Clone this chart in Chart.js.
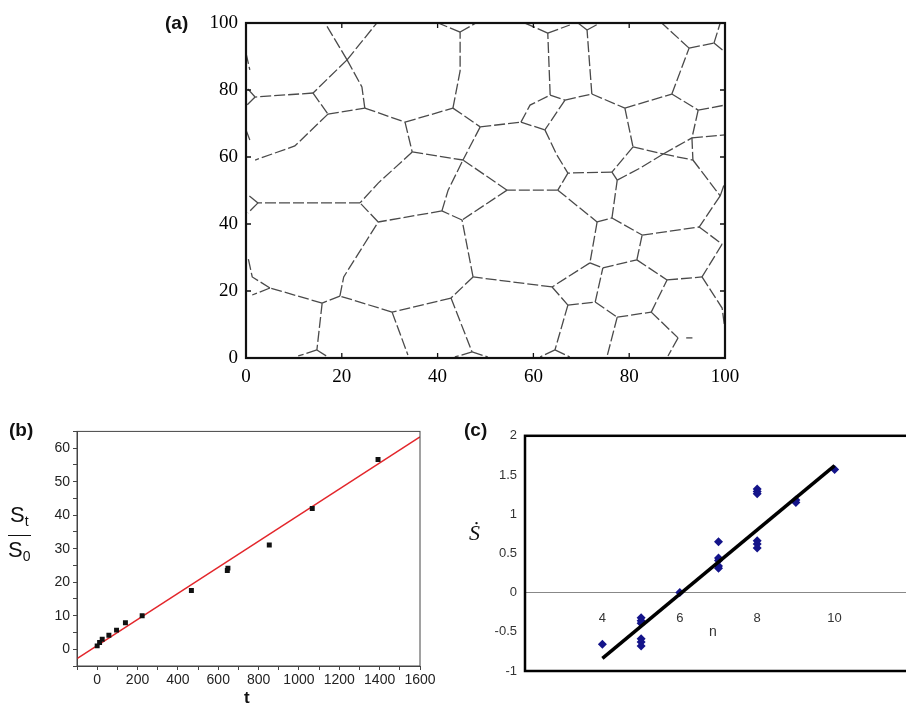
<!DOCTYPE html>
<html>
<head>
<meta charset="utf-8">
<script src="https://cdn.jsdelivr.net/npm/chart.js@4.4.1/dist/chart.umd.min.js"></script>
<style>
  html, body { margin: 0; padding: 0; background: #fff; width: 906px; height: 705px; overflow: hidden; position: relative; }
  canvas { position: absolute; }
  .tag { position: absolute; font: bold 19px "Liberation Sans", Arial, sans-serif; color: #111; line-height: 19px; }
  .frac { position: absolute; left: 8px; top: 503px; font: 22px "Liberation Sans", Arial, sans-serif; color: #111; text-align: center; line-height: 24px; }
  .frac sub { font-size: 14px; vertical-align: -4px; }
  .frac .num { border-bottom: 1.5px solid #111; padding: 0 2px 2px 2px; }
  .frac .den { padding-top: 2px; }
  .ttl { position: absolute; line-height: 1; }
</style>
</head>
<body>
<canvas id="grainChart" width="590" height="395" style="left:160px;top:0px"></canvas>
<canvas id="growthChart" width="450" height="285" style="left:0px;top:420px"></canvas>
<canvas id="rateChart" width="480" height="285" style="left:450px;top:420px"></canvas>

<div class="tag" style="left:165px;top:13px">(a)</div>
<div class="tag" style="left:9px;top:420px">(b)</div>
<div class="tag" style="left:464px;top:420px">(c)</div>
<div class="frac"><div class="num">S<sub>t</sub></div><div class="den">S<sub>0</sub></div></div>
<div class="ttl" style="left:244px;top:688px;font:bold 17px 'Liberation Sans',Arial,sans-serif;color:#111">t</div>
<div class="ttl" style="left:709px;top:623px;font:14px 'Liberation Sans',Arial,sans-serif;color:#333">n</div>
<div class="ttl" style="left:469px;top:520px;font:italic 22px 'Liberation Serif','Times New Roman',serif;color:#111">Ṡ</div>

<script>
// (a) grain boundary network: junction points (x, y in plot units)
const junctions = {
  v1: [21.1, 89.0], v2: [14.0, 79.1], v3: [24.8, 74.6], v4: [1.9, 77.9], v5: [17.1, 72.8],
  v6: [33.2, 70.4], v7: [34.7, 61.5], v8: [45.3, 59.1], v9: [43.2, 74.6], v10: [63.5, 78.5],
  v11: [48.9, 69.0], v12: [57.4, 70.4], v13: [62.4, 68.1], j: [66.6, 77.0], v14: [72.2, 78.8],
  v15: [54.5, 50.1], v16: [65.1, 50.1], v17: [67.2, 55.2], v18: [76.4, 55.5], v19: [79.1, 74.6],
  v20: [88.9, 78.8], v21: [92.5, 92.5], v22: [97.7, 94.0], v23: [94.4, 74.0], v24: [80.8, 63.0],
  v25: [93.1, 65.7], v26: [87.1, 60.9], v27: [93.3, 59.1], v28: [77.5, 53.1], v29: [73.3, 40.6],
  v30: [76.4, 41.8], v31: [82.7, 36.7], v32: [94.6, 39.1], v33: [71.8, 28.4], v34: [81.6, 29.3],
  v35: [74.5, 26.9], v36: [87.9, 23.3], v37: [95.2, 24.2], v38: [72.9, 16.7], v39: [77.5, 12.2],
  v40: [84.6, 13.7], v41: [90.2, 6.0], v42: [40.9, 43.9], v43: [45.1, 41.2], v44: [47.4, 24.2],
  v45: [63.9, 21.2], v46: [42.8, 17.9], v47: [67.2, 15.8], v48: [23.8, 46.3], v49: [27.6, 40.6],
  v50: [19.6, 18.5], v51: [15.9, 16.4], v52: [5.0, 20.9], v53: [30.5, 13.7], v54: [99.0, 48.4],
  ya: [44.7, 97.3], yb: [63.0, 97.0], yc: [71.2, 97.9], lm: [2.5, 46.3], r5: [99.4, 34.0],
  b1: [14.8, 2.4], b2: [47.2, 1.8], b3: [64.5, 2.4], r6: [99.4, 14.9]
};

// boundaries as paths through junctions (or loose points)
const boundaries = [
  ['v1', [16.5, 100]], ['v1', [27.3, 100]], ['v1', 'v2'], ['v1', [24.2, 80.9], 'v3'],
  ['v2', 'v4'], ['v4', [0, 80.9]], ['v4', [0.2, 75.5]], ['v2', 'v5'], ['v5', 'v3'], ['v3', 'v6'],
  ['v5', [10.2, 63.3], [1.9, 59.1]],
  ['v6', 'v7'], ['v6', 'v9'], ['v7', 'v8'], ['v7', [27.6, 52.2], 'v48'],
  ['v9', [44.7, 85.7], 'ya'], ['ya', [40.1, 100]], ['ya', [48.0, 100]],
  ['v9', 'v11'], ['v11', 'v12'], ['v11', 'v8'],
  ['v12', [59.3, 75.5], 'v10'], ['v12', 'v13'],
  ['v10', 'yb'], ['yb', [58.2, 100]], ['yb', [67.6, 99.4]],
  ['v10', 'j'], ['j', 'v14'], ['j', 'v13'],
  ['v14', 'yc'], ['yc', [69.3, 100]], ['yc', [73.5, 99.7]],
  ['v14', 'v19'], ['v19', 'v20'], ['v20', 'v21'], ['v21', [86.8, 100]], ['v21', 'v22'],
  ['v22', [99.0, 100]], ['v22', [100, 91.3]],
  ['v20', 'v23'], ['v23', [100, 75.5]], ['v19', 'v24'], ['v23', 'v25'], ['v25', [100, 66.6]],
  ['v24', 'v26'], ['v26', 'v25'], ['v26', 'v27'], ['v25', 'v27'],
  ['v24', 'v18'], ['v18', 'v17'], ['v13', [64.9, 60.6], 'v17'],
  ['v17', 'v16'], ['v16', 'v15'], ['v15', 'v8'], ['v15', 'v43'], ['v43', 'v42'], ['v42', [42.2, 50.1], 'v8'],
  ['v42', 'v49'], ['v49', 'v48'], ['v48', 'lm'], ['lm', [0.4, 48.7]], ['lm', [0.4, 43.3]],
  ['v16', 'v29'], ['v29', 'v30'], ['v30', 'v28'], ['v28', 'v18'], ['v26', [82.3, 56.7], 'v28'],
  ['v27', 'v54'], ['v54', 'v32'], ['v54', [100, 52.5]],
  ['v30', 'v31'], ['v31', 'v32'], ['v32', 'r5'], ['r5', 'v37'],
  ['v29', 'v33'], ['v33', 'v35'], ['v35', 'v34'], ['v34', 'v31'], ['v34', 'v36'], ['v36', 'v37'],
  ['v37', 'r6', [100, 8.4]],
  ['v33', 'v45'], ['v45', 'v44'], ['v44', 'v43'], ['v44', 'v46'], ['v46', 'v53'], ['v53', 'v50'],
  ['v50', [20.4, 24.2], 'v49'], ['v50', 'v51'], ['v51', 'v52'],
  ['v52', [1.3, 24.2], [0.4, 30.1]], ['v52', [1.3, 18.8]],
  ['v45', 'v47'], ['v47', 'v38'], ['v38', 'v35'], ['v38', 'v39'], ['v39', 'v40'], ['v40', 'v36'], ['v40', 'v41'],
  ['v51', 'b1'], ['b1', [10.9, 0.6]], ['b1', [17.1, 0.3]],
  ['v53', [33.8, 0.9]],
  ['v46', 'b2'], ['b2', [43.6, 0.3]], ['b2', [50.5, 0.3]],
  ['v47', 'b3'], ['b3', [61.4, 0.3]], ['b3', [67.6, 0.3]],
  ['v39', [75.4, 0.6]], ['v41', [88.1, 0.6]],
  [[91.9, 6.0], [93.2, 6.0]],
  [[0, 91.0], [0.8, 86.0]], [[0, 68.1], [0.8, 65.1]]
];

// (b) normalised size vs time
const timeT = [0, 12, 25, 58, 96, 140, 223, 467, 645, 648, 853, 1066, 1392];
const sizeRatio = [1.0, 2.0, 3.0, 4.2, 5.7, 7.9, 10.0, 17.5, 23.5, 24.2, 31.1, 42.0, 56.6];
const fitT = [-100, 1600];
const fitRatio = [-2.8, 63.4];

// (c) growth rate vs number of sides
const sidesN = [4, 5, 5, 5, 5, 5, 5, 6, 7, 7, 7, 7, 7, 8, 8, 8, 8, 8, 8, 9, 9, 10];
const rateS = [-0.66, -0.32, -0.36, -0.39, -0.59, -0.63, -0.68, 0.0, 0.65, 0.44, 0.41, 0.34, 0.31,
               1.32, 1.29, 1.26, 0.66, 0.62, 0.57, 1.18, 1.15, 1.57];
const fitN = [4, 10];
const fitRate = [-0.84, 1.62];

const zip = (xs, ys) => xs.map((x, i) => ({ x: x, y: ys[i] }));

// frame around plot area, optional inward ticks
const framePlugin = {
  id: 'frame',
  afterDatasetsDraw(chart, args, opts) {
    const { ctx, chartArea: a, scales } = chart;
    ctx.save();
    ctx.strokeStyle = opts.color;
    ctx.lineWidth = opts.width;
    ctx.strokeRect(a.left, a.top, a.right - a.left, a.bottom - a.top);
    if (opts.innerTicks) {
      const len = opts.innerTicks;
      ctx.lineWidth = 1.3;
      ctx.beginPath();
      scales.x.ticks.forEach(t => {
        const px = scales.x.getPixelForValue(t.value);
        ctx.moveTo(px, a.bottom); ctx.lineTo(px, a.bottom - len);
        ctx.moveTo(px, a.top); ctx.lineTo(px, a.top + len);
      });
      scales.y.ticks.forEach(t => {
        const py = scales.y.getPixelForValue(t.value);
        ctx.moveTo(a.left, py); ctx.lineTo(a.left + len, py);
        ctx.moveTo(a.right, py); ctx.lineTo(a.right - len, py);
      });
      ctx.stroke();
    }
    ctx.restore();
  }
};
Chart.register(framePlugin);

const pt = p => (typeof p === 'string' ? junctions[p] : p);

// (a)
new Chart(document.getElementById('grainChart'), {
  type: 'scatter',
  data: {
    datasets: boundaries.map(path => ({
      data: path.map(p => ({ x: pt(p)[0], y: pt(p)[1] })),
      showLine: true,
      borderColor: '#4a4a4a',
      borderWidth: 1.3,
      borderDash: [11, 3],
      pointRadius: 0
    }))
  },
  options: {
    responsive: false, animation: false, events: [],
    layout: { padding: { top: 23, right: 25, left: 0, bottom: 0 } },
    plugins: { legend: { display: false }, tooltip: { enabled: false },
      frame: { color: '#111', width: 2.2, innerTicks: 5 } },
    scales: {
      x: { type: 'linear', min: 0, max: 100,
        ticks: { stepSize: 20, color: '#000', padding: 8, maxRotation: 0,
          font: { family: 'Liberation Serif', size: 19 } },
        grid: { display: false, drawTicks: false }, border: { display: false },
        afterFit: s => { s.height = 37; } },
      y: { min: 0, max: 100,
        ticks: { stepSize: 20, color: '#000', padding: 8,
          font: { family: 'Liberation Serif', size: 19 } },
        grid: { display: false, drawTicks: false }, border: { display: false },
        afterFit: s => { s.width = 86; } }
    }
  }
});

// (b)
new Chart(document.getElementById('growthChart'), {
  type: 'scatter',
  data: {
    datasets: [
      { data: zip(timeT, sizeRatio), pointStyle: 'rect', pointRadius: 3.5,
        backgroundColor: '#111', borderColor: '#111', borderWidth: 0 },
      { data: zip(fitT, fitRatio), showLine: true, borderColor: '#e3262b', borderWidth: 1.5, pointRadius: 0 }
    ]
  },
  options: {
    responsive: false, animation: false, events: [],
    layout: { padding: { top: 8, right: 30, left: 0, bottom: 0 } },
    plugins: { legend: { display: false }, tooltip: { enabled: false },
      frame: { color: '#444', width: 1, innerTicks: 0 } },
    scales: {
      x: { type: 'linear', min: -100, max: 1600,
        ticks: { stepSize: 100, autoSkip: false, maxRotation: 0, color: '#222', padding: 2,
          font: { family: 'Liberation Sans', size: 14 },
          callback: v => (v >= 0 && v % 200 === 0 ? v : '') },
        grid: { drawOnChartArea: false, tickLength: 4, color: '#444' },
        border: { display: true, color: '#444' },
        afterFit: s => { s.height = 39; } },
      y: { min: -5, max: 65,
        ticks: { stepSize: 5, autoSkip: false, color: '#222', padding: 3,
          font: { family: 'Liberation Sans', size: 14 },
          callback: v => (v >= 0 && v <= 60 && v % 10 === 0 ? v : '') },
        grid: { drawOnChartArea: false, tickLength: 4, color: '#444' },
        border: { display: true, color: '#444' },
        afterFit: s => { s.width = 77; } }
    }
  }
});

// (c)
new Chart(document.getElementById('rateChart'), {
  type: 'scatter',
  data: {
    datasets: [
      { data: zip(fitN, fitRate), showLine: true, borderColor: '#000', borderWidth: 3.5, pointRadius: 0 },
      { data: zip(sidesN, rateS), pointStyle: 'rectRot', pointRadius: 4.5,
        backgroundColor: '#14148a', borderColor: '#14148a', borderWidth: 0 }
    ]
  },
  options: {
    responsive: false, animation: false, events: [],
    layout: { padding: { top: 12, right: 14, left: 0, bottom: 34 } },
    plugins: { legend: { display: false }, tooltip: { enabled: false },
      frame: { color: '#000', width: 2.5, innerTicks: 0 } },
    scales: {
      x: { type: 'linear', min: 2, max: 12, position: { y: 0 },
        ticks: { stepSize: 2, color: '#333', padding: 18, maxRotation: 0,
          font: { family: 'Liberation Sans', size: 13 },
          callback: v => (v > 2 && v < 12 ? v : '') },
        grid: { display: false, drawTicks: false },
        border: { display: true, color: '#888', width: 1 } },
      y: { min: -1, max: 2,
        ticks: { stepSize: 0.5, color: '#333', padding: 8,
          font: { family: 'Liberation Sans', size: 13 },
          callback: v => String(v) },
        grid: { display: false, drawTicks: false }, border: { display: false },
        afterFit: s => { s.width = 75; } }
    }
  }
});
</script>
</body>
</html>
